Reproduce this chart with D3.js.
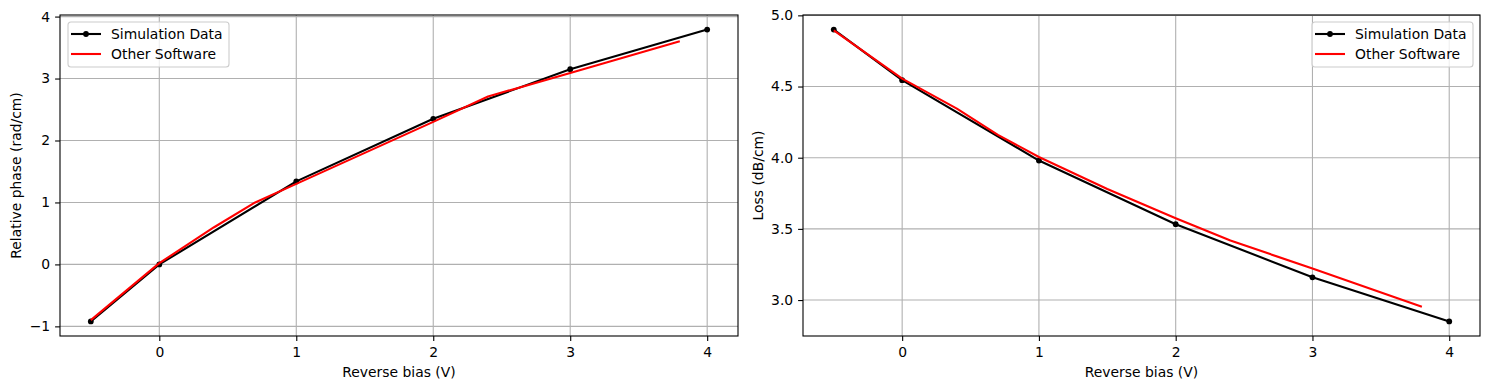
<!DOCTYPE html>
<html lang="en">
<head>
<meta charset="UTF-8">
<title>Reverse bias comparison</title>
<script src="https://d3js.org/d3.v7.min.js"></script>
<style>
  body { margin: 0; background: #fff; }
  text { font-family: "DejaVu Sans", sans-serif; font-size: 13.9px; fill: #000; }
  .grid line { stroke: #b0b0b0; stroke-width: 1.1; }
</style>
</head>
<body>
<script>
// Simulation data (black, with markers)
const simBias = [-0.5, 0, 1, 2, 3, 4];
const simPhase = [-0.92, 0.0, 1.34, 2.35, 3.15, 3.79];
const simLoss = [4.90, 4.545, 3.98, 3.533, 3.16, 2.85];

// Other software (red line)
const otherBias = [-0.5, 0, 0.4, 0.7, 1, 1.5, 2, 2.4, 3, 3.8];
const otherPhase = [-0.90, 0.02, 0.60, 1.0, 1.30, 1.80, 2.30, 2.71, 3.09, 3.60];
const otherLoss = [4.895, 4.555, 4.345, 4.16, 4.005, 3.78, 3.575, 3.418, 3.222, 2.953];

const xTicks = [0, 1, 2, 3, 4];
const phaseTicks = [-1, 0, 1, 2, 3, 4];
const lossTicks = [3.0, 3.5, 4.0, 4.5, 5.0];
const seriesNames = ["Simulation Data", "Other Software"];

const W = 1490, H = 389;
const svg = d3.select("body").append("svg")
    .attr("width", W).attr("height", H);

function pad(ext) {
  const m = (ext[1] - ext[0]) * 0.05;
  return [ext[0] - m, ext[1] + m];
}

function drawPanel(opt) {
  const g = svg.append("g").attr("transform", `translate(${opt.left},${opt.top})`);
  const w = opt.right - opt.left, h = opt.bottom - opt.top;

  const x = d3.scaleLinear().domain(pad(d3.extent(simBias.concat(otherBias)))).range([0, w]);
  const y = d3.scaleLinear().domain(pad(d3.extent(opt.sim.concat(opt.other)))).range([h, 0]);

  // grid
  g.append("g").attr("class", "grid").selectAll("line.gx").data(xTicks).join("line")
      .attr("x1", d => x(d)).attr("x2", d => x(d)).attr("y1", 0).attr("y2", h);
  g.append("g").attr("class", "grid").selectAll("line.gy").data(opt.yTicks).join("line")
      .attr("y1", d => y(d)).attr("y2", d => y(d)).attr("x1", 0).attr("x2", w);

  // axes
  const fmtMinus = f => d => f(d).replace("-", "\u2212");
  const xa = g.append("g").attr("transform", `translate(0,${h})`)
      .call(d3.axisBottom(x).tickValues(xTicks).tickSize(4.9).tickPadding(4.9)
        .tickFormat(fmtMinus(d3.format("d"))));
  const ya = g.append("g")
      .call(d3.axisLeft(y).tickValues(opt.yTicks).tickSize(4.9).tickPadding(4.9)
        .tickFormat(fmtMinus(d3.format(opt.yFmt))));
  [xa, ya].forEach(a => {
    a.select(".domain").remove();
    a.selectAll("line").attr("stroke", "#000").attr("stroke-width", 1.1);
    a.selectAll("text").attr("font-size", null).attr("font-family", null);
  });
  xa.selectAll("text").attr("dy", "0.78em");

  // lines
  const lineOther = d3.line().x(d => x(d[0])).y(d => y(d[1]));
  g.append("path").datum(d3.zip(simBias, opt.sim))
      .attr("fill", "none").attr("stroke", "#000").attr("stroke-width", 2.1)
      .attr("stroke-linejoin", "round").attr("d", lineOther);
  g.selectAll("circle.pt").data(d3.zip(simBias, opt.sim)).join("circle")
      .attr("cx", d => x(d[0])).attr("cy", d => y(d[1])).attr("r", 2.9).attr("fill", "#000");
  g.append("path").datum(d3.zip(otherBias, opt.other))
      .attr("fill", "none").attr("stroke", "#ff0000").attr("stroke-width", 2.1)
      .attr("stroke-linejoin", "round").attr("d", lineOther);

  // frame
  g.append("rect").attr("width", w).attr("height", h)
      .attr("fill", "none").attr("stroke", "#000").attr("stroke-width", 1.1);

  // axis labels
  g.append("text").attr("x", w / 2).attr("y", h + 41).attr("text-anchor", "middle")
      .text("Reverse bias (V)");
  g.append("text").attr("transform", `translate(${opt.yLabelX - opt.left},${h / 2}) rotate(-90)`)
      .attr("text-anchor", "middle").attr("dy", "0.35em").text(opt.yLabel);

  // legend
  const lw = 161, lh = 45;
  const lx = opt.legendRight ? w - 7 - lw : 8, ly = 7;
  const lg = g.append("g").attr("transform", `translate(${lx},${ly})`);
  lg.append("rect").attr("width", lw).attr("height", lh).attr("rx", 3)
      .attr("fill", "#fff").attr("fill-opacity", 0.8)
      .attr("stroke", "#cccccc").attr("stroke-width", 1.1);
  const rows = [{c: "#000", m: true}, {c: "#ff0000", m: false}];
  rows.forEach((r, i) => {
    const cy = 12 + i * 20;
    lg.append("line").attr("x1", 3).attr("x2", 33).attr("y1", cy).attr("y2", cy)
        .attr("stroke", r.c).attr("stroke-width", 2.1);
    if (r.m) lg.append("circle").attr("cx", 18).attr("cy", cy).attr("r", 2.9).attr("fill", r.c);
    lg.append("text").attr("x", 43).attr("y", cy).attr("dy", "0.35em").text(seriesNames[i]);
  });
}

drawPanel({left: 60, right: 738, top: 15, bottom: 336,
  sim: simPhase, other: otherPhase, yTicks: phaseTicks, yFmt: "d",
  yLabel: "Relative phase (rad/cm)", yLabelX: 16, legendRight: false});

drawPanel({left: 803, right: 1480, top: 15, bottom: 336,
  sim: simLoss, other: otherLoss, yTicks: lossTicks, yFmt: ".1f",
  yLabel: "Loss (dB/cm)", yLabelX: 758, legendRight: true});
</script>
</body>
</html>
